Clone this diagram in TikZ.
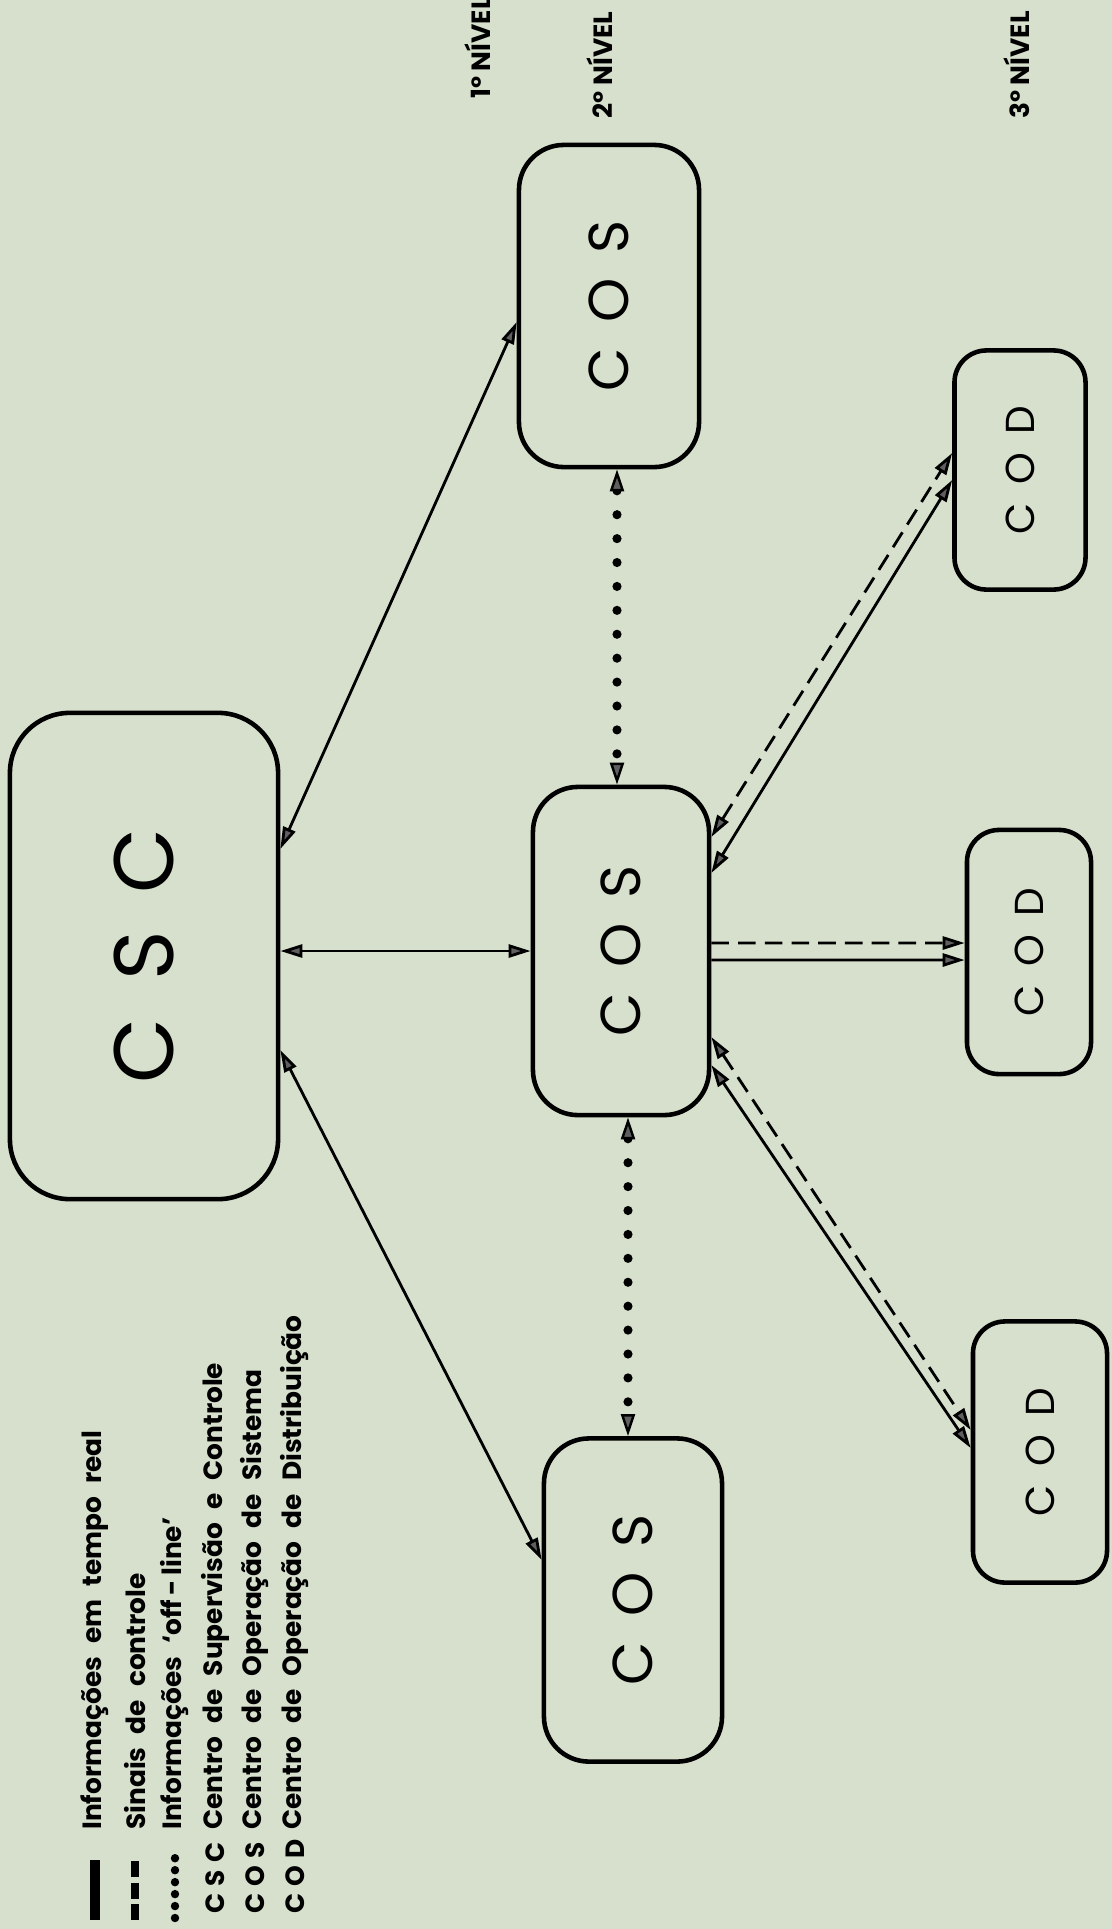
\documentclass[tikz,border=0pt]{standalone}
\usepackage{fontspec}
\usetikzlibrary{arrows.meta}
\newfontfamily\legfont{Poppins}
\newfontfamily\boxfont{Poppins}
\definecolor{paper}{RGB}{214,224,205}
\definecolor{tipgray}{RGB}{95,95,95}
\newcommand{\lsp}{\hspace{0.45em}}
\newcommand{\asp}{\hspace{0.28em}}

\tikzset{
    centro/.style={draw=black, line width=1.3pt, rounded corners=#1, inner sep=0pt},
    centro/.default={0.45cm},
    conn/.style={line width=0.8pt, >={Triangle[length=2.2mm,width=1.3mm,fill=tipgray]}},
    ctrl/.style={conn, dash pattern=on 5pt off 2.6pt},
    offl/.style={line width=2.6pt, line cap=round, dash pattern=on 0pt off 6.8pt,
        >={Triangle[length=2.2mm,width=1.4mm,fill=tipgray,line width=0.7pt]}},
    nivel/.style={rotate=90, font=\legfont\bfseries\fontsize{7.5}{9}\selectfont},
    legtext/.style={rotate=90, anchor=west, font=\legfont\bfseries\fontsize{7.5}{9}\selectfont}
}

\begin{document}
\begin{tikzpicture}[x=0.01cm, y=-0.01cm]
    \fill[paper] (0,0) rectangle (1112,1929);
    \useasboundingbox (0,0) rectangle (1112,1929);

    %niveis
    \node[nivel] (n1) at (478,48) {1º NÍVEL};
    \node[nivel] (n2) at (600,65) {2º NÍVEL};
    \node[nivel] (n3) at (1017,65) {3º NÍVEL};

    %centros
    \node[centro=0.6cm, minimum width=2.68cm, minimum height=4.86cm] (csc) at (144,956)
        {\rotatebox{90}{\boxfont\fontsize{24}{26}\selectfont C\lsp S\lsp C}};
    \node[centro, minimum width=1.80cm, minimum height=3.22cm] (cost) at (609,306)
        {\rotatebox{90}{\boxfont\fontsize{16}{18}\selectfont C\lsp O\lsp S}};
    \node[centro, minimum width=1.76cm, minimum height=3.28cm] (cosm) at (621,951)
        {\rotatebox{90}{\boxfont\fontsize{16}{18}\selectfont C\lsp O\lsp S}};
    \node[centro, minimum width=1.78cm, minimum height=3.23cm] (cosb) at (633,1600)
        {\rotatebox{90}{\boxfont\fontsize{16}{18}\selectfont C\lsp O\lsp S}};
    \node[centro=0.32cm, minimum width=1.31cm, minimum height=2.39cm] (codt) at (1020,470)
        {\rotatebox{90}{\boxfont\fontsize{11.5}{13}\selectfont C\lsp O\lsp D}};
    \node[centro=0.32cm, minimum width=1.24cm, minimum height=2.44cm] (codm) at (1029,952)
        {\rotatebox{90}{\boxfont\fontsize{11.5}{13}\selectfont C\lsp O\lsp D}};
    \node[centro=0.32cm, minimum width=1.34cm, minimum height=2.61cm] (codb) at (1040,1452)
        {\rotatebox{90}{\boxfont\fontsize{11.5}{13}\selectfont C\lsp O\lsp D}};

    %tempo real csc - cos
    \draw[conn, <->] ([yshift=1.07cm]csc.east) -- ([yshift=-0.16cm]cost.west);
    \draw[conn, <->] (csc.east |- cosm.west) -- (cosm.west);
    \draw[conn, <->] ([yshift=-0.94cm]csc.east) -- ([yshift=0.40cm]cosb.west);

    %off-line cos - cos
    \draw[offl, <->] ([xshift=0.08cm]cost.south) -- ([xshift=-0.04cm]cosm.north);
    \draw[offl, <->] ([xshift=0.07cm]cosm.south) -- ([xshift=-0.05cm]cosb.north);

    %cos - cod
    \draw[ctrl, <->] ([yshift=1.14cm]cosm.east) -- ([yshift=0.17cm]codt.west);
    \draw[conn, <->] ([yshift=0.78cm]cosm.east) -- ([yshift=-0.10cm]codt.west);
    \draw[ctrl, ->] ([yshift=0.08cm]cosm.east) -- ([yshift=0.09cm]codm.west);
    \draw[conn, ->] ([yshift=-0.09cm]cosm.east) -- ([yshift=-0.08cm]codm.west);
    \draw[ctrl, <->] ([yshift=-0.86cm]cosm.east) -- ([yshift=0.22cm]codb.west);
    \draw[conn, <->] ([yshift=-1.14cm]cosm.east) -- ([yshift=0.04cm]codb.west);

    %legenda
    \coordinate (l1a) at (95,1920);  \coordinate (l1b) at (95,1860);
    \coordinate (l2a) at (135,1920); \coordinate (l2b) at (135,1860);
    \coordinate (l3a) at (175,1918); \coordinate (l3b) at (175,1858);
    \draw[line width=2.6pt] (l1a) -- (l1b);
    \draw[line width=2.2pt, dash pattern=on 4.5pt off 1.6pt] (l2a) -- (l2b);
    \draw[line width=2.4pt, line cap=round, dash pattern=on 0pt off 3.4pt] (l3a) -- (l3b);
    \node[legtext] (t1) at (95,1842) {Informações\enspace em\enspace tempo\enspace real};
    \node[legtext] (t2) at (135,1842) {Sinais\enspace de\enspace controle};
    \node[legtext] (t3) at (175,1842) {Informações\enspace ‘off\,-\,line’};
    \node[legtext] (a4) at (215,1926) {C\asp S\asp C};
    \node[legtext] (a5) at (255,1926) {C\asp O\asp S};
    \node[legtext] (a6) at (295,1926) {C\asp O\asp D};
    \node[legtext] (t4) at (215,1842) {Centro\enspace de\enspace Supervisão\enspace e\enspace Controle};
    \node[legtext] (t5) at (255,1842) {Centro\enspace de\enspace Operação\enspace de\enspace Sistema};
    \node[legtext] (t6) at (295,1842) {Centro\enspace de\enspace Operação\enspace de\enspace Distribuição};
\end{tikzpicture}
\end{document}
